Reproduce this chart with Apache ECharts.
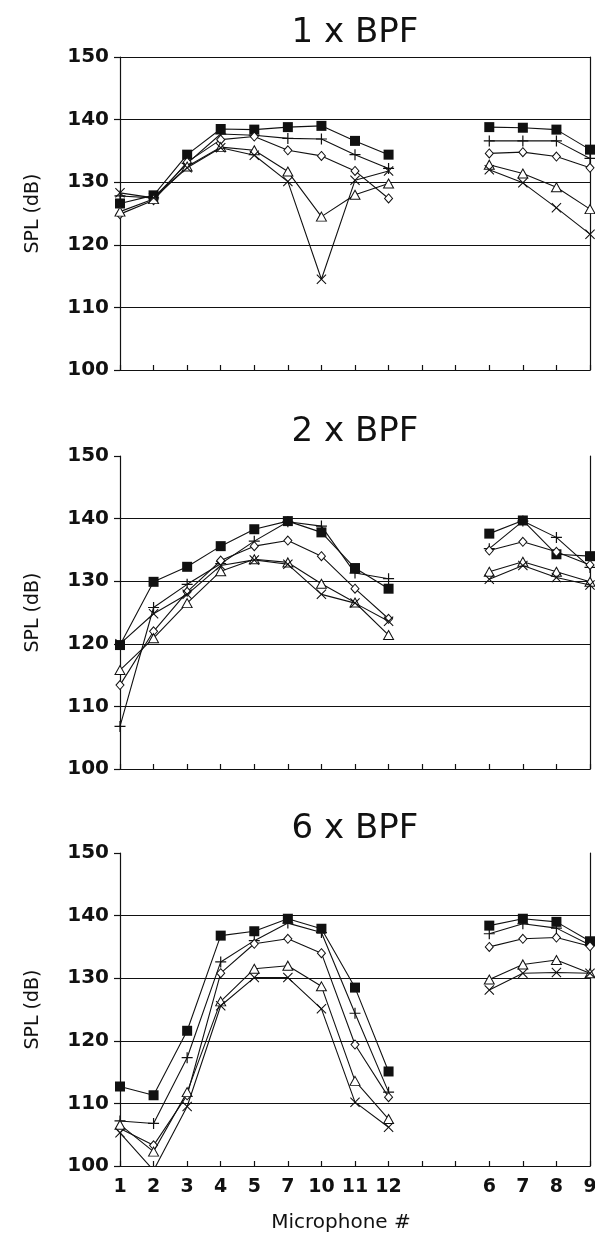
<!DOCTYPE html>
<html>
<head>
<meta charset="utf-8">
<script src="https://cdn.jsdelivr.net/npm/echarts@6/dist/echarts.min.js"></script>
<style>
  html, body { margin: 0; padding: 0; background: #fff; }
  #chart { width: 595px; height: 1238px; }
</style>
</head>
<body>
<div id="chart"></div>
<script>
// Microphone positions along the x axis (two blank slots separate the second array)
const categories = ['1', '2', '3', '4', '5', '7', '10', '11', '12', '', '', '6', '7', '8', '9'];
const panelTitles = ['1 x BPF', '2 x BPF', '6 x BPF'];
const yMin = 100, yMax = 150, yStep = 10;

// SPL (dB) per microphone, 1 x BPF
const bpf1Square   = [126.6, 127.9, 134.4, 138.5, 138.4, 138.8, 139.0, 136.6, 134.4, null, null, 138.8, 138.7, 138.4, 135.2];
const bpf1Plus     = [127.8, 127.5, 133.0, 137.7, 137.5, 137.0, 136.9, 134.4, 132.2, null, null, 136.6, 136.6, 136.6, 133.8];
const bpf1Diamond  = [124.9, 127.1, 133.2, 136.8, 137.3, 135.1, 134.2, 131.8, 127.4, null, null, 134.6, 134.8, 134.1, 132.3];
const bpf1Triangle = [125.3, 127.3, 132.5, 135.6, 135.1, 131.7, 124.5, 128.0, 129.8, null, null, 132.8, 131.4, 129.2, 125.7];
const bpf1Cross    = [128.3, 127.5, 132.3, 135.5, 134.3, 130.1, 114.5, 130.3, 131.8, null, null, 132.0, 129.9, 125.9, 121.7];

// SPL (dB) per microphone, 2 x BPF
const bpf2Square   = [119.8, 129.9, 132.3, 135.6, 138.3, 139.6, 137.8, 132.1, 128.8, null, null, 137.6, 139.7, 134.3, 134.0];
const bpf2Plus     = [106.8, 125.8, 129.5, 132.8, 136.4, 139.5, 138.8, 131.3, 130.4, null, null, 135.2, 139.6, 137.0, 132.2];
const bpf2Diamond  = [113.4, 122.0, 128.3, 133.3, 135.6, 136.5, 134.0, 128.8, 124.0, null, null, 134.9, 136.3, 134.7, 132.6];
const bpf2Triangle = [115.8, 120.9, 126.5, 131.6, 133.5, 133.0, 129.6, 126.6, 121.4, null, null, 131.5, 133.1, 131.5, 129.9];
const bpf2Cross    = [120.0, 124.8, 127.9, 132.5, 133.4, 132.7, 127.9, 126.5, 123.6, null, null, 130.3, 132.5, 130.6, 129.4];

// SPL (dB) per microphone, 6 x BPF
const bpf6Square   = [112.7, 111.3, 121.6, 136.8, 137.5, 139.5, 137.9, 128.5, 115.1, null, null, 138.4, 139.5, 139.0, 135.9];
const bpf6Plus     = [107.2, 106.8, 117.3, 132.6, 136.0, 138.8, 137.3, 124.4, 111.8, null, null, 137.1, 138.7, 138.0, 135.3];
const bpf6Diamond  = [106.0, 103.3, 111.3, 130.8, 135.5, 136.3, 134.0, 119.4, 111.0, null, null, 135.0, 136.3, 136.5, 135.1];
const bpf6Triangle = [106.6, 102.3, 111.8, 126.3, 131.5, 132.0, 128.7, 113.6, 107.5, null, null, 129.8, 132.2, 132.9, 130.8];
const bpf6Cross    = [105.3,  99.3, 109.5, 125.6, 130.1, 130.1, 125.1, 110.2, 106.2, null, null, 128.1, 130.8, 130.9, 130.8];

const panelData = [
  [bpf1Square, bpf1Plus, bpf1Diamond, bpf1Triangle, bpf1Cross],
  [bpf2Square, bpf2Plus, bpf2Diamond, bpf2Triangle, bpf2Cross],
  [bpf6Square, bpf6Plus, bpf6Diamond, bpf6Triangle, bpf6Cross]
];

const INK = '#111';
const FONT = 'DejaVu Sans';

// thin plus and x marker outlines
const PLUS_PATH = 'path://M4.45,0h1.1v4.45h4.45v1.1h-4.45v4.45h-1.1v-4.45h-4.45v-1.1h4.45z';
const CROSS_PATH = 'path://M0,0.75L0.75,0L5,4.25L9.25,0L10,0.75L5.75,5L10,9.25L9.25,10L5,5.75L0.75,10L0,9.25L4.25,5z';

const markerStyles = [
  { name: 'square',   symbol: 'rect',     symbolSize: 10,      itemStyle: { color: INK, borderWidth: 0 } },
  { name: 'plus',     symbol: PLUS_PATH,  symbolSize: 11,      itemStyle: { color: INK, borderWidth: 0 } },
  { name: 'diamond',  symbol: 'diamond',  symbolSize: [8, 9],  itemStyle: { color: '#fff', borderColor: INK, borderWidth: 1 } },
  { name: 'triangle', symbol: 'triangle', symbolSize: [10, 9], itemStyle: { color: '#fff', borderColor: INK, borderWidth: 1 } },
  { name: 'cross',    symbol: CROSS_PATH, symbolSize: 10,      itemStyle: { color: INK, borderWidth: 0 } }
];

const panelTops = [57, 456, 853];
const panelHeight = 313;
const plotLeft = 120, plotRight = 5;
const plotCenterX = plotLeft + (595 - plotLeft - plotRight) / 2;

const grid = [], xAxis = [], yAxis = [], series = [], title = [];

panelTops.forEach((top, i) => {
  const isLast = i === panelTops.length - 1;
  grid.push({
    left: plotLeft, right: plotRight, top: top, height: panelHeight,
    containLabel: false, outerBoundsMode: 'none'
  });

  title.push({
    text: panelTitles[i],
    left: plotCenterX,
    textAlign: 'center',
    top: top - 41,
    padding: 0,
    textStyle: { fontFamily: FONT, fontSize: 34, fontWeight: 'normal', color: INK }
  });

  xAxis.push({
    gridIndex: i,
    type: 'category',
    data: categories,
    boundaryGap: false,
    axisLine: { show: true, lineStyle: { color: INK, width: 1.2 } },
    axisTick: { show: true, inside: true, length: 5, interval: 0, lineStyle: { color: INK, width: 1.2 } },
    axisLabel: {
      show: isLast, interval: 0, margin: 12, hideOverlap: false,
      fontFamily: FONT, fontSize: 19, fontWeight: 'bold', color: INK
    },
    splitLine: { show: false },
    name: isLast ? 'Microphone #' : '',
    nameLocation: 'middle',
    nameGap: 47,
    nameTextStyle: { fontFamily: FONT, fontSize: 20, color: INK, padding: [0, 28, 0, 0] }
  });

  yAxis.push({
    gridIndex: i,
    type: 'value',
    position: 'left',
    min: yMin, max: yMax, interval: yStep,
    axisLine: { show: true, lineStyle: { color: INK, width: 1.2 } },
    axisTick: { show: true, inside: false, length: 6, lineStyle: { color: INK, width: 1.2 } },
    axisLabel: { margin: 11, fontFamily: FONT, fontSize: 20, fontWeight: 'bold', color: INK },
    splitLine: {
      show: true, showMinLine: false, showMaxLine: i === 0,
      lineStyle: { color: INK, width: 1.1 }
    },
    name: 'SPL (dB)',
    nameLocation: 'middle',
    nameGap: 77,
    nameTextStyle: { fontFamily: FONT, fontSize: 19, color: INK }
  });

  // right-hand frame line
  yAxis.push({
    gridIndex: i,
    type: 'value',
    position: 'right',
    min: yMin, max: yMax, interval: yStep,
    axisLine: { show: true, lineStyle: { color: INK, width: 1.2 } },
    axisTick: { show: false },
    axisLabel: { show: false },
    splitLine: { show: false }
  });

  panelData[i].forEach((values, k) => {
    const m = markerStyles[k];
    series.push({
      name: m.name,
      type: 'line',
      xAxisIndex: i,
      yAxisIndex: i * 2,
      data: values,
      connectNulls: false,
      clip: true,
      symbol: m.symbol,
      symbolSize: m.symbolSize,
      showAllSymbol: true,
      itemStyle: m.itemStyle,
      lineStyle: { color: INK, width: 1.1 },
      emphasis: { disabled: true },
      animation: false,
      z: 2 + k
    });
  });
});

const chart = echarts.init(document.getElementById('chart'), null, { renderer: 'canvas' });
chart.setOption({
  backgroundColor: '#fff',
  animation: false,
  title: title,
  grid: grid,
  xAxis: xAxis,
  yAxis: yAxis,
  series: series
});
</script>
</body>
</html>
